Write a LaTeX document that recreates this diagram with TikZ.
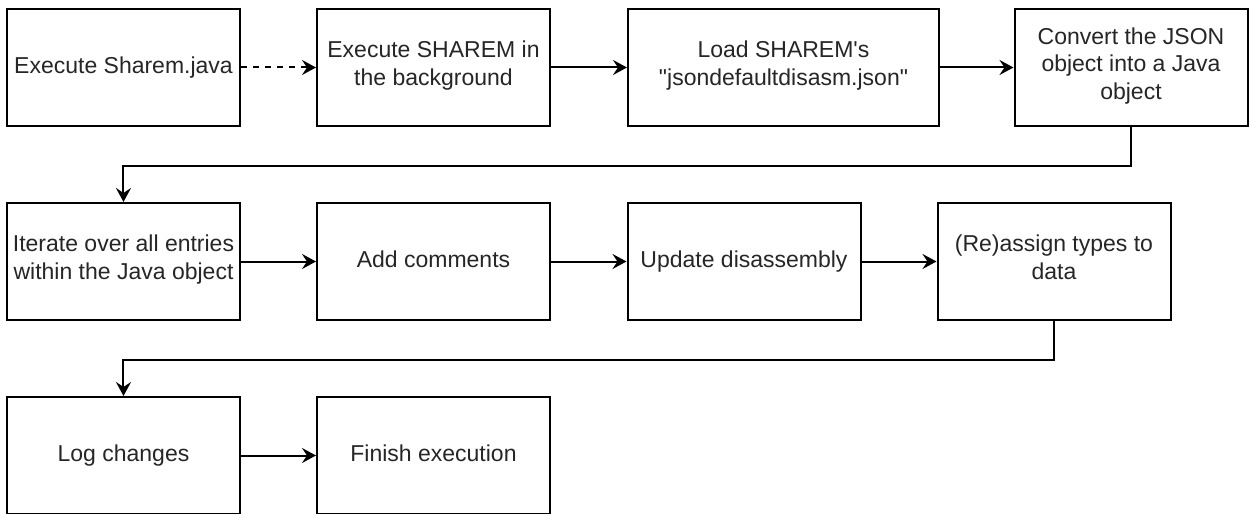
\documentclass[tikz,border=0pt]{standalone}
\usepackage{fontspec}
\setmainfont{Liberation Sans}
\usetikzlibrary{arrows.meta,positioning}

\begin{document}
\begin{tikzpicture}[node distance=155pt,on grid,
    box/.style={draw,line width=1pt,minimum width=116.5pt,minimum height=58.5pt,
      inner sep=2pt,align=center,text=black!85,
      font=\fontsize{11.5}{13.8}\selectfont,
      execute at begin node=\strut,execute at end node=\strut},
    flow/.style={line width=1pt,-{Stealth[length=7pt,width=7.5pt,inset=2.5pt]}}]
   \path[use as bounding box,fill=white] (-61.75pt,33.75pt) rectangle (563.25pt,-223.25pt);
   % first row
   \node[box] (exec) {Execute Sharem.java};
   \node[box] (bg) [right=of exec] {Execute SHAREM in\\the background};
   \node[box,minimum width=155.5pt] (load) [right=175pt of bg] {Load SHAREM\textquotesingle s\\\textquotedbl jsondefaultdisasm.json\textquotedbl};
   \node[box] (conv) [right=173.75pt of load] {Convert the JSON\\object into a Java\\object};
   % second row
   \node[box] (iter) [below=97pt of exec] {Iterate over all entries\\within the Java object};
   \node[box] (cmt) [right=of iter] {Add comments};
   \node[box] (upd) [right=155.25pt of cmt] {Update disassembly};
   \node[box] (types) [right=of upd] {(Re)assign types to\\data};
   % third row
   \node[box] (log) [below=97pt of iter] {Log changes};
   \node[box] (fin) [right=of log] {Finish execution};
    \path[flow]
    (exec) edge[dash pattern=on 3pt off 3pt] (bg)
    (bg) edge (load)
    (load) edge (conv)
    (iter) edge (cmt)
    (cmt) edge (upd)
    (upd) edge (types)
    (log) edge (fin);
    \draw[flow] (conv.south) -- ++(0,-19.25pt) -| (iter.north);
    \draw[flow] (types.south) -- ++(0,-19.25pt) -| (log.north);
\end{tikzpicture}
\end{document}
